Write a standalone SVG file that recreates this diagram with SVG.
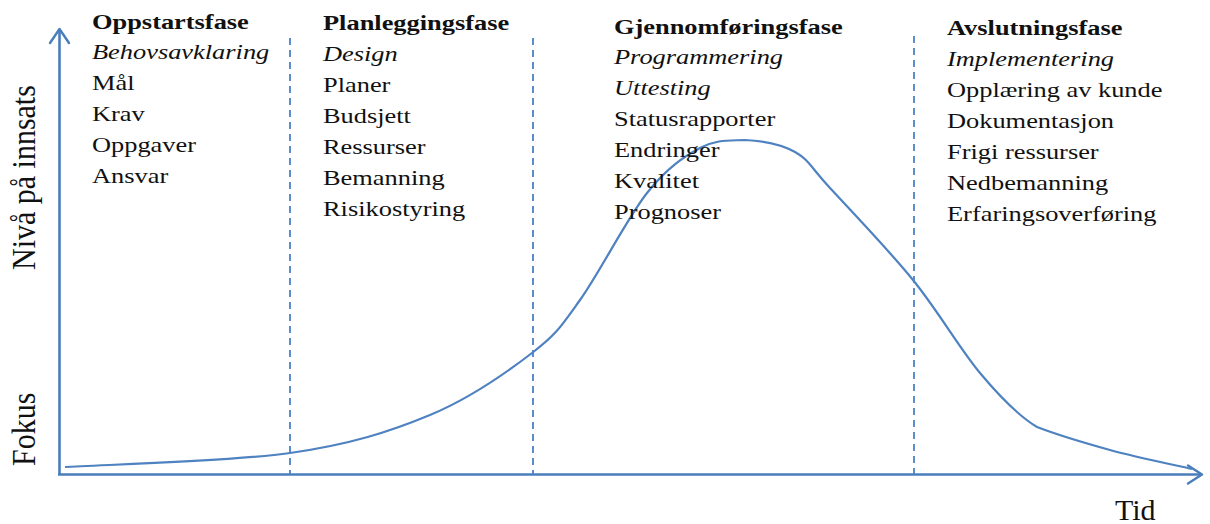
<svg xmlns="http://www.w3.org/2000/svg" width="1210" height="524" viewBox="0 0 1210 524">
<style>
.t{font-family:"Liberation Serif","Times New Roman",serif;font-size:22px;fill:#111}
.b{font-weight:bold}
.i{font-style:italic}
.lab{font-family:"Liberation Serif","Times New Roman",serif;font-size:30px;fill:#111}
.ax{stroke:#4a7ebb;stroke-width:2.6;fill:none}
.arr{stroke:#4a7ebb;stroke-width:2.4;fill:none;stroke-linecap:round;stroke-linejoin:round}
.dash{stroke:#5b8ccb;stroke-width:2;stroke-dasharray:7 5;fill:none}
.curve{stroke:#4f82c0;stroke-width:2.2;fill:none;stroke-linejoin:round}
</style>
<rect width="1210" height="524" fill="#fff"/>
<g id="connectors">
<line class="dash" x1="290" y1="38" x2="290" y2="474"/>
<line class="dash" x1="533" y1="38" x2="533" y2="474"/>
<line class="dash" x1="914" y1="36" x2="914" y2="474"/>
<path class="curve" d="M65,467 C102.5,464.7 229.2,461.7 290,453 C350.8,444.3 389.7,431.7 430,415 C470.3,398.3 507,372.2 532,353 C557,333.8 560.8,326.7 580,300 C599.2,273.3 627,218.3 647,193 C667,167.7 683.7,156.8 700,148 C716.3,139.2 729.2,140.7 745,140 C760.8,140.7 780.8,144 795,152 C809.2,160 810.3,166.7 830,188 C849.7,209.3 888,249.2 913,280 C938,310.8 959.7,348.7 980,373 C1000.3,397.3 1022,418 1037,427 C1050,432 1084,442.8 1110,450 C1136,457.2 1178.3,465.8 1192,469"/>
<line class="ax" x1="59.5" y1="475" x2="59.5" y2="30"/>
<polyline class="arr" points="50,43 59.5,29 69,43"/>
<line class="ax" x1="58" y1="474.5" x2="1201" y2="474.5"/>
<polyline class="arr" points="1188,465.5 1202,474.5 1188,483.5"/>
</g>
<g id="axis-y-label">
<text class="lab" transform="translate(35,270) scale(1.15,1) rotate(-90)">Nivå på innsats</text>
<text class="lab" transform="translate(35,466) scale(1.15,1) rotate(-90)">Fokus</text>
</g>
<g id="axis-x-label">
<text class="lab" x="1115" y="520">Tid</text>
</g>
<g id="phase-oppstart" transform="translate(92,0) scale(1.2,1)">
<text class="t b" x="0" y="29">Oppstartsfase</text>
<text class="t i" x="0" y="59">Behovsavklaring</text>
<text class="t" x="0" y="90">Mål</text>
<text class="t" x="0" y="121">Krav</text>
<text class="t" x="0" y="152">Oppgaver</text>
<text class="t" x="0" y="183">Ansvar</text>
</g>
<g id="phase-planlegging" transform="translate(323,0) scale(1.2,1)">
<text class="t b" x="0" y="30">Planleggingsfase</text>
<text class="t i" x="0" y="61">Design</text>
<text class="t" x="0" y="92">Planer</text>
<text class="t" x="0" y="123">Budsjett</text>
<text class="t" x="0" y="154">Ressurser</text>
<text class="t" x="0" y="185">Bemanning</text>
<text class="t" x="0" y="216">Risikostyring</text>
</g>
<g id="phase-gjennomforing" transform="translate(614,0) scale(1.2,1)">
<text class="t b" x="0" y="34">Gjennomføringsfase</text>
<text class="t i" x="0" y="64">Programmering</text>
<text class="t i" x="0" y="95">Uttesting</text>
<text class="t" x="0" y="126">Statusrapporter</text>
<text class="t" x="0" y="157">Endringer</text>
<text class="t" x="0" y="188">Kvalitet</text>
<text class="t" x="0" y="219">Prognoser</text>
</g>
<g id="phase-avslutning" transform="translate(947,0) scale(1.2,1)">
<text class="t b" x="0" y="35">Avslutningsfase</text>
<text class="t i" x="0" y="66">Implementering</text>
<text class="t" x="0" y="97">Opplæring av kunde</text>
<text class="t" x="0" y="128">Dokumentasjon</text>
<text class="t" x="0" y="159">Frigi ressurser</text>
<text class="t" x="0" y="190">Nedbemanning</text>
<text class="t" x="0" y="221">Erfaringsoverføring</text>
</g>
</svg>
